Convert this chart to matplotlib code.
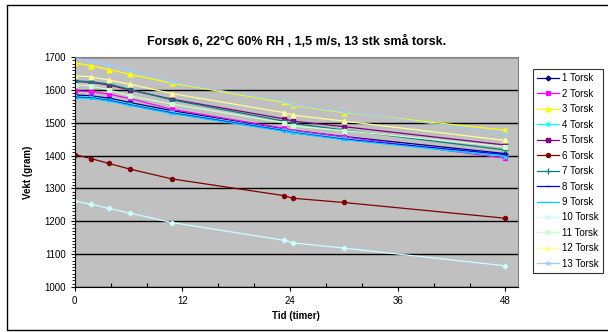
import matplotlib
matplotlib.use('Agg')
import matplotlib.pyplot as plt
from matplotlib.patches import Rectangle
import numpy as np

plt.rcParams['font.family'] = ['Liberation Sans', 'DejaVu Sans']

tid = [0, 1.8, 3.8, 6.1, 10.8, 23.3, 24.3, 30, 48]

torsk1 = [1585, 1582, 1575, 1562, 1537, 1482, 1477, 1458, 1406]
torsk2 = [1597, 1595, 1587, 1574, 1541, 1483, 1477, 1457, 1392]
torsk3 = [1682, 1674, 1662, 1648, 1621, 1562, 1553, 1531, 1477]
torsk4 = [1580, 1578, 1570, 1557, 1532, 1478, 1473, 1452, 1397]
torsk5 = [1626, 1623, 1615, 1600, 1572, 1512, 1505, 1488, 1432]
torsk6 = [1403, 1391, 1376, 1359, 1329, 1278, 1270, 1257, 1209]
torsk7 = [1628, 1625, 1618, 1602, 1570, 1505, 1498, 1478, 1417]
torsk8 = [1578, 1576, 1568, 1555, 1530, 1476, 1470, 1450, 1403]
torsk9 = [1576, 1574, 1566, 1553, 1528, 1474, 1469, 1448, 1398]
torsk10 = [1261, 1252, 1239, 1225, 1196, 1142, 1134, 1118, 1064]
torsk11 = [1615, 1613, 1600, 1582, 1557, 1500, 1490, 1476, 1427]
torsk12 = [1643, 1640, 1630, 1618, 1589, 1531, 1523, 1505, 1446]
torsk13 = [1696, 1689, 1676, 1660, 1624, 1565, 1555, 1533, 1468]

navn = ['%d Torsk' % i for i in range(1, 14)]
serier = [torsk1, torsk2, torsk3, torsk4, torsk5, torsk6, torsk7,
          torsk8, torsk9, torsk10, torsk11, torsk12, torsk13]

farger = ['#000080', '#FF00FF', '#FFFF00', '#00FFFF', '#800080', '#800000',
          '#008080', '#0000FF', '#00CCFF', '#CCFFFF', '#CCFFCC', '#FFFF99', '#99CCFF']
markorer = ['D', 's', '^', 'x', 'X', 'o', '+', '_', '_', 'D', 's', '^', 'x']
mstr = [2.5, 3, 3.5, 3.5, 3.5, 3, 4, 3.5, 4, 2.5, 3, 3.5, 3.5]

fig = plt.figure(figsize=(6.08, 3.32), dpi=100)
ax = fig.add_axes([0.123, 0.136, 0.729, 0.692])
ax.set_facecolor('#C0C0C0')

for y, lab, c, m, s in zip(serier, navn, farger, markorer, mstr):
    ax.plot(tid, y, color=c, marker=m, markersize=s, lw=0.9, label=lab,
            markeredgewidth=0.9)

ax.set_xlim(0, 49.4)
ax.set_ylim(1000, 1700)
ax.set_xticks(np.arange(0, 49, 12))
ax.set_xticks(np.arange(0, 49, 4), minor=True)
ax.set_yticks(np.arange(1000, 1701, 100))
ax.set_yticks(np.arange(1000, 1701, 10), minor=True)
ax.yaxis.grid(True, color='black', lw=1.0)
ax.set_axisbelow(True)
ax.tick_params(labelsize=7, direction='out', length=3, width=0.8)
ax.tick_params(axis='y', which='minor', direction='out', length=2, width=0.6)
ax.tick_params(axis='x', which='minor', direction='in', length=3, width=0.8)
for sp in ['top', 'right']:
    ax.spines[sp].set_color('#808080')
for sp in ['left', 'bottom']:
    ax.spines[sp].set_color('black')

ax.set_title('Forsøk 6, 22°C 60% RH , 1,5 m/s, 13 stk små torsk.',
             fontsize=9, fontweight='bold', pad=9)
ax.set_xlabel('Tid (timer)', fontsize=7, fontweight='bold', labelpad=4)
ax.set_ylabel('Vekt (gram)', fontsize=7, fontweight='bold', labelpad=8)

leg = ax.legend(loc='upper left', bbox_to_anchor=(1.034, 0.948), fontsize=7,
                frameon=True, fancybox=False, edgecolor='black',
                handlelength=2.2, labelspacing=0.56, borderpad=0.45,
                handletextpad=0.3, borderaxespad=0)
leg.get_frame().set_linewidth(0.8)

fig.patches.append(Rectangle((0.011, 0.006), 1.2, 0.979, transform=fig.transFigure,
                             fill=False, edgecolor='black', lw=1.0))

plt.savefig('out.png', dpi=100)
